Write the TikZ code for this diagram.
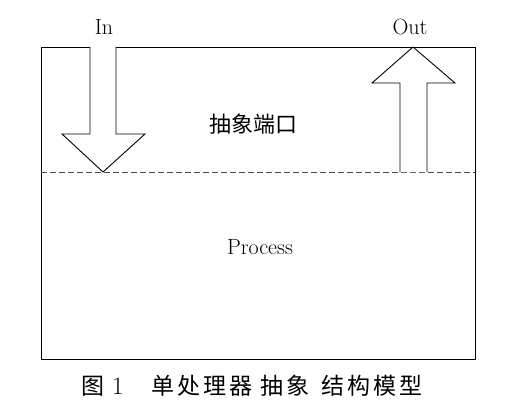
\documentclass[tikz,border=0pt]{standalone}
\usepackage{fontspec}
\newfontfamily\cjk{Noto Sans CJK SC}
\usetikzlibrary{positioning}

\begin{document}
\begin{tikzpicture}[x=1pt, y=-1pt,
  frame/.style={draw, line width=0.9pt},
  portline/.style={draw, dash pattern=on 6pt off 3pt, line width=0.9pt, gray!60!black},
  blockarrow/.style={draw, fill=white, line width=0.9pt, line join=miter},
  label/.style={font=\fontsize{22}{26}\selectfont, inner sep=0pt, anchor=base},
  cjklabel/.style={font=\cjk\fontsize{22}{26}\selectfont, inner sep=0pt},
  caption/.style={font=\cjk\fontsize{23}{28}\selectfont, inner sep=0pt, anchor=west}
  ]
\useasboundingbox (0,0) rectangle (519,417);

% Frame and port boundary
\draw[frame] (41,47) rectangle (475,359);
\draw[portline] (41,172) -- (475,172);

% In arrow (down)
\draw[blockarrow] (90,47) -- (90,134) -- (62,134) -- (103,172) -- (145,134) -- (116,134) -- (116,47);
\node[label] (inlab) at (104,35) {In};

% Out arrow (up)
\draw[blockarrow] (400,172) -- (400,83) -- (372,83) -- (413,47) -- (455,83) -- (427,83) -- (427,172);
\node[label] (outlab) at (410,35) {Out};

% Regions
\node[cjklabel] (port) at (253,124) {抽象端口};
\node[label] (proc) at (260,254) {Process};

% Caption
\node[caption] (cap) at (81,386) {图\hspace{8pt}{\rmfamily\fontsize{25}{28}\selectfont 1}\hspace{28pt}单\hspace{3pt}处\hspace{3pt}理\hspace{3pt}器\hspace{8pt}抽\hspace{3pt}象\hspace{12pt}结\hspace{3pt}构\hspace{3pt}模\hspace{3pt}型};

\end{tikzpicture}
\end{document}
